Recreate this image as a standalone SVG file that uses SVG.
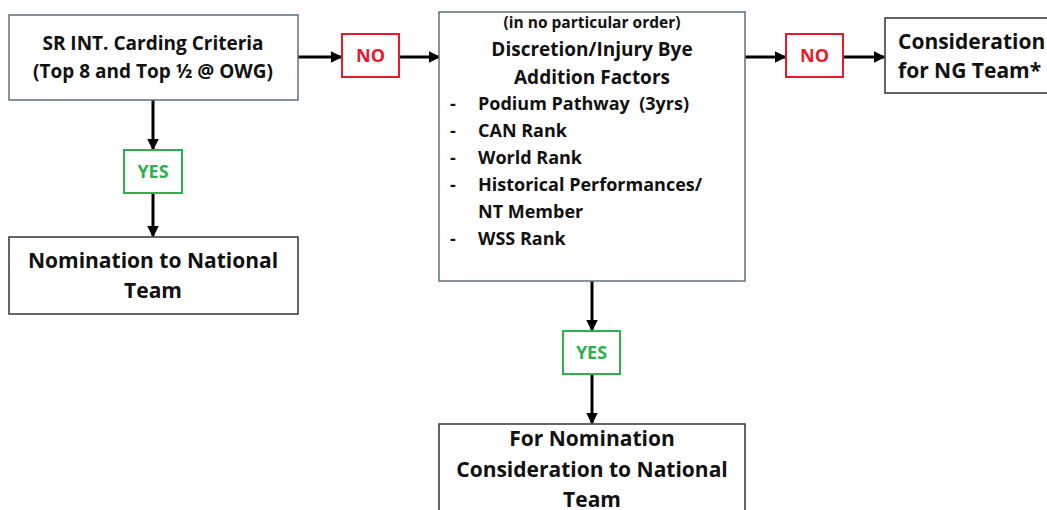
<svg xmlns="http://www.w3.org/2000/svg" width="1047" height="510" viewBox="0 0 1047 510">
<style>
text{font-family:"Open Sans","Liberation Sans",sans-serif;font-weight:bold;fill:#111}
.box{fill:#fff;stroke:#5f6f80;stroke-width:1.5}
.box2{fill:#fff;stroke:#333;stroke-width:1.5}
.no{fill:#fff;stroke:#e8192c;stroke-width:2}
.yes{fill:#fff;stroke:#2eb04f;stroke-width:2}
.nt{fill:#e8192c;font-size:18px}
.yt{fill:#2eb04f;font-size:18px}
.c{text-anchor:middle}
.ln{stroke:#000;stroke-width:3;fill:none;marker-end:url(#ah)}
</style>
<defs>
<marker id="ah" markerWidth="4" markerHeight="4" refX="3.5" refY="2" orient="auto" markerUnits="strokeWidth">
<path d="M0,0 L4,2 L0,4 Z" fill="#000"/>
</marker>
</defs>
<rect width="1047" height="510" fill="#fff"/>
<g id="connectors">
<line class="ln" x1="298" y1="57" x2="341" y2="57"/>
<line class="ln" x1="399" y1="57" x2="439" y2="57"/>
<line class="ln" x1="745" y1="57" x2="785" y2="57"/>
<line class="ln" x1="843" y1="57" x2="884" y2="57"/>
<line class="ln" x1="153" y1="100" x2="153" y2="149"/>
<line class="ln" x1="153" y1="193" x2="153" y2="236"/>
<line class="ln" x1="592" y1="281" x2="592" y2="330"/>
<line class="ln" x1="592" y1="374" x2="592" y2="423"/>
</g>
<g id="criteria">
<rect class="box" x="9" y="15" width="289" height="85"/>
<text class="c" x="153" y="50" font-size="19">SR INT. Carding Criteria</text>
<text class="c" x="153" y="78" font-size="19">(Top 8 and Top ½ @ OWG)</text>
</g>
<g id="no1">
<rect class="no" x="342" y="34" width="57" height="43"/>
<text class="c nt" x="370.5" y="62">NO</text>
</g>
<g id="discretion">
<rect class="box" x="439" y="12" width="306" height="269"/>
<text class="c" x="592" y="28" font-size="15.5">(in no particular order)</text>
<text class="c" x="592" y="56" font-size="19">Discretion/Injury Bye</text>
<text class="c" x="592" y="84" font-size="19">Addition Factors</text>
<g font-size="18">
<text x="450" y="110">-</text><text x="478" y="110" xml:space="preserve">Podium Pathway  (3yrs)</text>
<text x="450" y="137">-</text><text x="478" y="137">CAN Rank</text>
<text x="450" y="164">-</text><text x="478" y="164">World Rank</text>
<text x="450" y="191">-</text><text x="478" y="191">Historical Performances/</text>
<text x="478" y="218">NT Member</text>
<text x="450" y="245">-</text><text x="478" y="245">WSS Rank</text>
</g>
</g>
<g id="no2">
<rect class="no" x="786" y="34" width="57" height="43"/>
<text class="c nt" x="814.5" y="62">NO</text>
</g>
<g id="ng">
<rect class="box2" x="885" y="18" width="170" height="75"/>
<text x="898" y="49" font-size="21">Consideration</text>
<text x="898" y="78" font-size="21">for NG Team*</text>
</g>
<g id="yes1">
<rect class="yes" x="124" y="150" width="58" height="43"/>
<text class="c yt" x="153" y="178">YES</text>
</g>
<g id="nomination">
<rect class="box2" x="9" y="237" width="289" height="77"/>
<text class="c" x="153" y="268" font-size="21">Nomination to National</text>
<text class="c" x="153" y="298" font-size="21">Team</text>
</g>
<g id="yes2">
<rect class="yes" x="563" y="331" width="57" height="43"/>
<text class="c yt" x="591.5" y="359">YES</text>
</g>
<g id="consideration">
<rect class="box2" x="439" y="424" width="306" height="100"/>
<text class="c" x="592" y="446" font-size="21">For Nomination</text>
<text class="c" x="592" y="477" font-size="21">Consideration to National</text>
<text class="c" x="592" y="507" font-size="21">Team</text>
</g>
</svg>
